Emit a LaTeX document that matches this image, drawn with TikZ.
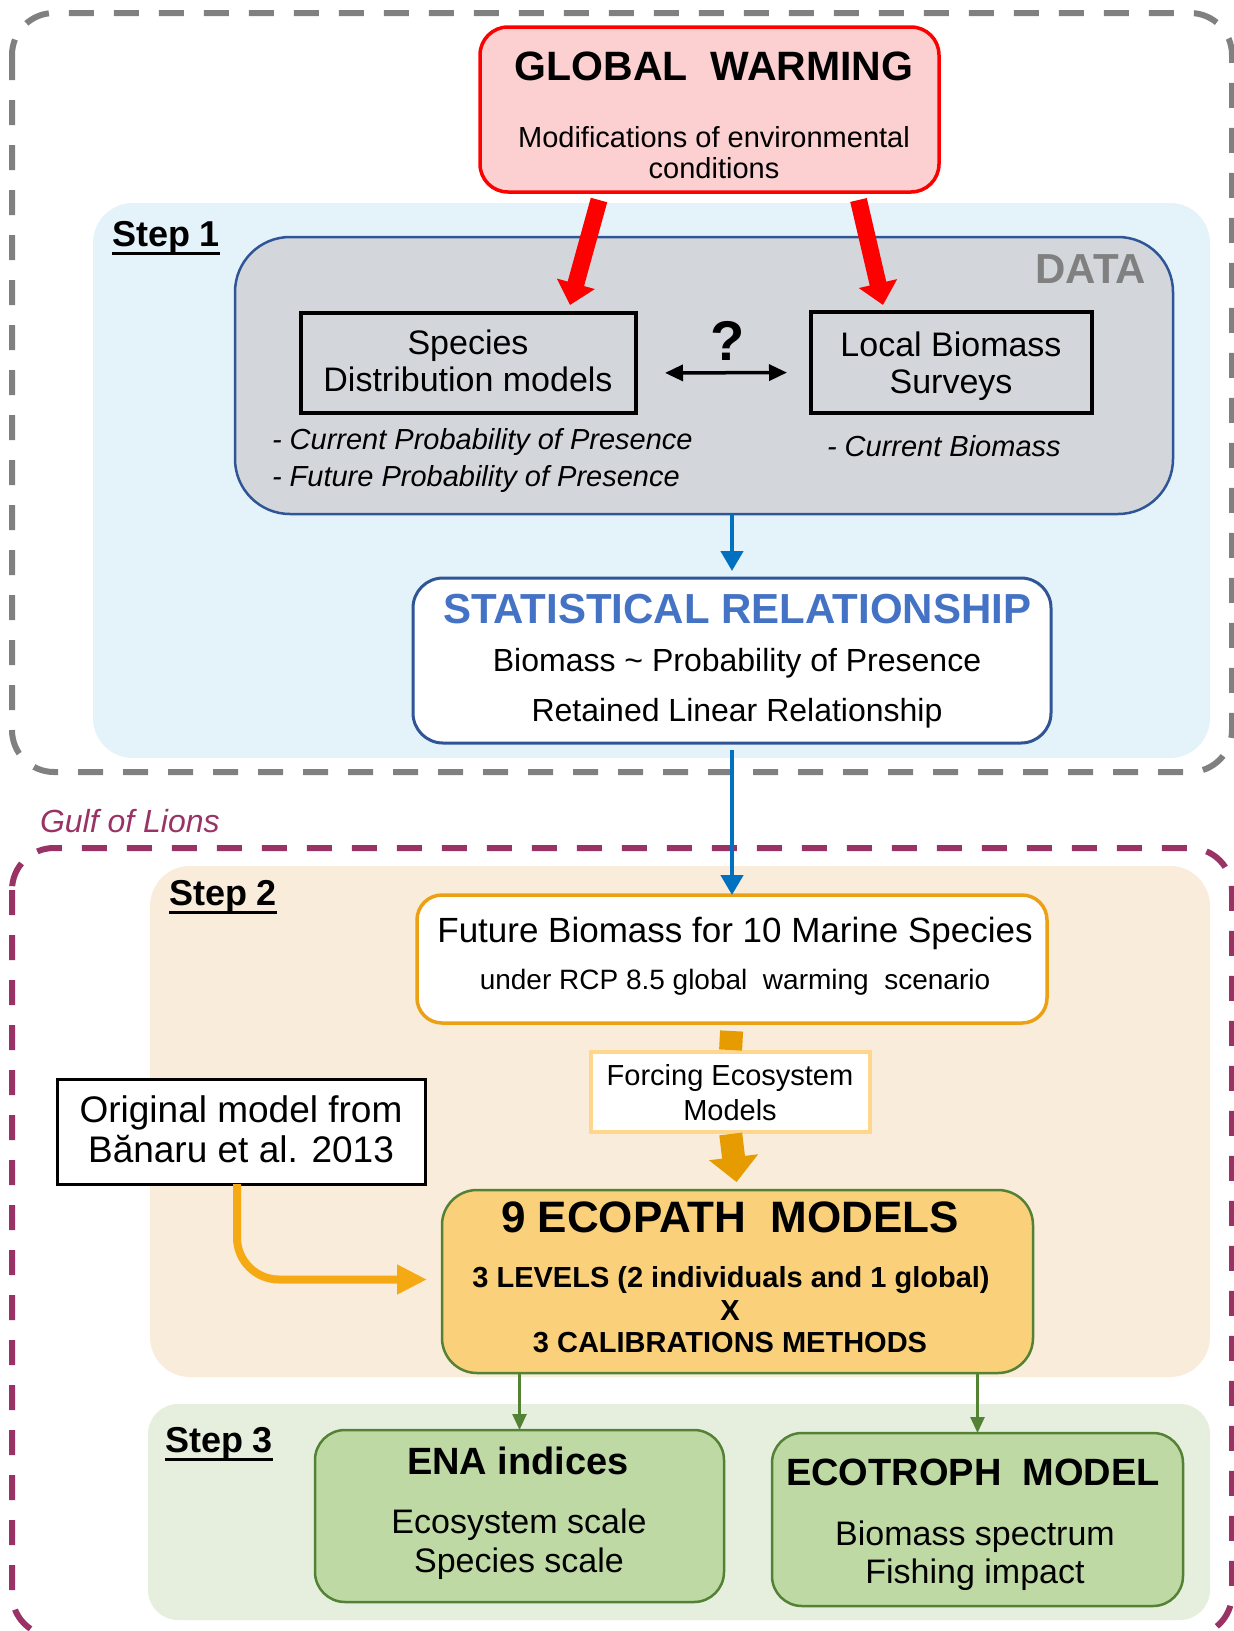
\documentclass[tikz,border=0pt]{standalone}
\usepackage{fontspec}
\setmainfont{Liberation Sans}
\usetikzlibrary{arrows.meta,positioning,calc}

\newcommand{\fsize}[1]{\fontsize{#1}{#1}\selectfont}

\definecolor{frameGray}{RGB}{128,128,128}
\definecolor{gulfPurple}{RGB}{153,51,102}
\definecolor{stepBlue}{RGB}{228,242,250}
\definecolor{stepOrange}{RGB}{249,236,218}
\definecolor{stepGreen}{RGB}{230,239,222}
\definecolor{warmFill}{RGB}{252,207,209}
\definecolor{warmRed}{RGB}{255,0,0}
\definecolor{dataFill}{RGB}{211,215,219}
\definecolor{navyLine}{RGB}{47,85,151}
\definecolor{statBlue}{RGB}{68,114,196}
\definecolor{arrowBlue}{RGB}{0,112,192}
\definecolor{futOrange}{RGB}{236,160,20}
\definecolor{forceOrange}{RGB}{255,214,140}
\definecolor{shaftOrange}{RGB}{230,155,0}
\definecolor{curveOrange}{RGB}{245,170,20}
\definecolor{ecoFill}{RGB}{250,208,122}
\definecolor{ecoGreen}{RGB}{84,130,53}
\definecolor{outFill}{RGB}{190,217,163}

\begin{document}
\begin{tikzpicture}[x=1pt, y=-1pt,
  every node/.style={inner sep=0pt, outer sep=0pt},
  txt/.style={anchor=base, font=\fsize{#1}},
  btxt/.style={anchor=base, font=\fsize{#1}\bfseries},
  itxt/.style={anchor=base west, font=\fsize{#1}\itshape},
  steplabel/.style={anchor=base west, font=\fsize{36}\bfseries},
  underbar/.style={line width=3pt},
  region/.style={fill=#1, rounded corners=40pt},
  dashframe/.style={draw=#1, line width=6pt, dash pattern=on 25pt off 20pt, rounded corners=42pt},
  plainbox/.style={draw, line width=3pt},
  warmarrow/.style={-{Triangle[width=38pt,length=22pt]}, line width=17pt, warmRed},
  bluearrow/.style={-{Triangle[width=22pt,length=20pt]}, line width=4.5pt, arrowBlue},
  bothways/.style={{Triangle[width=16pt,length=18pt]}-{Triangle[width=16pt,length=18pt]}, line width=3.5pt},
  forcearrow/.style={-{Triangle[width=48pt,length=25pt]}, line width=23pt, shaftOrange},
  bendarrow/.style={-{Triangle[width=28pt,length=30pt]}, line width=8pt, curveOrange, rounded corners=42pt},
  greenarrow/.style={-{Triangle[width=14pt,length=16pt]}, line width=2.5pt, ecoGreen},
]
\useasboundingbox (0,0) rectangle (1234,1631);
\clip (0,0) rectangle (1234,1631);

% --- outer frames and step backgrounds
\draw[dashframe=frameGray] (12,13) rectangle (1232,772);
\draw[dashframe=gulfPurple] (12,848) rectangle (1232,1636);
\fill[region=stepBlue] (93,203) rectangle (1210,758);
\fill[region=stepOrange] (150,866) rectangle (1210,1377);
\fill[region=stepGreen, rounded corners=30pt] (148,1404) rectangle (1210,1620);

% --- Step 1
\node[plainbox, draw=warmRed, fill=warmFill, line width=3.5pt, rounded corners=28pt,
  minimum width=459pt, minimum height=165pt] (gw) at (709.5,109.5) {};
\node[btxt=41] (gwtitle) at (714,80) {GLOBAL\ \ WARMING};
\node[txt=29] (gwtext1) at (714,147) {Modifications of environmental};
\node[txt=29] (gwtext2) at (714,178) {conditions};

\node[steplabel] (step1) at (112,246) {Step 1};
\draw[underbar] (step1.south west) -- (step1.south east);

\node[draw=navyLine, fill=dataFill, line width=2.5pt, rounded corners=55pt,
  minimum width=938pt, minimum height=277pt] (data) at (704,375.5) {};
\node[anchor=base east, font=\fsize{42}\bfseries, text=frameGray] (datalabel) at (1146,283) {DATA};

\node[plainbox, line width=3.5pt, minimum width=335pt, minimum height=100pt] (sdm) at (468.5,363) {};
\node[txt=34] (sdmtext1) at (468,354) {Species};
\node[txt=34] (sdmtext2) at (468,391) {Distribution models};
\node[plainbox, line width=3.5pt, minimum width=281pt, minimum height=101pt] (lbs) at (951.5,362.5) {};
\node[txt=34] (lbstext1) at (951,356) {Local Biomass};
\node[txt=34] (lbstext2) at (951,393) {Surveys};
\node[btxt=56] (query) at (728,360) {?};

\node[itxt=29] (sdmnote1) at (272,449) {- Current Probability of Presence};
\node[itxt=29] (sdmnote2) at (272,486) {- Future Probability of Presence};
\node[itxt=29] (lbsnote) at (827,456) {- Current Biomass};

\node[draw=navyLine, fill=white, line width=3pt, rounded corners=30pt,
  minimum width=638pt, minimum height=165pt] (stat) at (732,660.5) {};
\node[anchor=base, font=\fsize{42}\bfseries, text=statBlue] (stattitle) at (737,623) {STATISTICAL RELATIONSHIP};
\node[txt=32] (stattext1) at (737,671) {Biomass \textasciitilde\ Probability of Presence};
\node[txt=32] (stattext2) at (737,721) {Retained Linear Relationship};

% --- Gulf of Lions, Step 2
\node[anchor=base west, font=\fsize{32}\itshape, text=gulfPurple] (gulf) at (40,832) {Gulf of Lions};

\node[steplabel] (step2) at (169,905) {Step 2};
\draw[underbar] (step2.south west) -- (step2.south east);

\node[draw=futOrange, fill=white, line width=3.5pt, rounded corners=25pt,
  minimum width=630pt, minimum height=128pt] (future) at (732,959) {};
\node[txt=35] (futtext1) at (735,942) {Future Biomass for 10 Marine Species};
\node[txt=28] (futtext2) at (735,989) {under RCP 8.5 global\ \ warming\ \ scenario};

\node[draw=forceOrange, fill=white, line width=3.5pt,
  minimum width=279pt, minimum height=80pt] (forcing) at (730.5,1092) {};
\node[txt=29] (forcetext1) at (730,1085) {Forcing Ecosystem};
\node[txt=29] (forcetext2) at (730,1120) {Models};

\node[plainbox, fill=white, minimum width=368pt, minimum height=105pt] (orig) at (241,1131.5) {};
\node[txt=37] (origtext1) at (241,1122) {Original model from};
\node[txt=37] (origtext2) at (241,1162) {Bănaru et al. 2013};

\node[draw=ecoGreen, fill=ecoFill, line width=2.5pt, rounded corners=35pt,
  minimum width=591pt, minimum height=183pt] (ecopath) at (737.5,1281.5) {};
\node[btxt=44] (ecotitle) at (730,1232) {9 ECOPATH\ \ MODELS};
\node[btxt=29] (ecotext1) at (731,1287) {3 LEVELS (2 individuals and 1 global)};
\node[btxt=29] (ecotext2) at (730,1320) {X};
\node[btxt=29] (ecotext3) at (730,1352) {3 CALIBRATIONS METHODS};

% --- Step 3
\node[steplabel] (step3) at (165,1452) {Step 3};
\draw[underbar] (step3.south west) -- (step3.south east);

\node[draw=ecoGreen, fill=outFill, line width=2.5pt, rounded corners=30pt,
  minimum width=409pt, minimum height=172pt] (ena) at (519.5,1516) {};
\node[btxt=38] (enatitle) at (518,1474) {ENA indices};
\node[txt=34] (enatext1) at (519,1533) {Ecosystem scale};
\node[txt=34] (enatext2) at (519,1572) {Species scale};

\node[draw=ecoGreen, fill=outFill, line width=2.5pt, rounded corners=30pt,
  minimum width=411pt, minimum height=173pt] (troph) at (977.5,1519.5) {};
\node[btxt=38] (trophtitle) at (973,1485) {ECOTROPH\ \ MODEL};
\node[txt=34] (trophtext1) at (975,1545) {Biomass spectrum};
\node[txt=34] (trophtext2) at (975,1583) {Fishing impact};

% --- connectors
\draw[warmarrow] ([xshift=-110.5pt,yshift=-8pt]gw.south) -- ([xshift=101.5pt,yshift=8pt]sdm.north);
\draw[warmarrow] ([xshift=149pt,yshift=-8pt]gw.south) -- ([xshift=-68.5pt,yshift=7pt]lbs.north);
\draw[bothways, shorten <=29pt, shorten >=24pt] ([yshift=-10pt]sdm.east) -- ([yshift=-10pt]lbs.west);
\draw[bluearrow, shorten >=7pt] (stat.north |- data.south) -- (stat.north);
\draw[bluearrow, shorten <=7pt] (stat.south) -- (future.north);
\draw[line width=23pt, shaftOrange, shorten <=8pt, shorten >=2pt] (future.south) -- (forcing.north);
\draw[forcearrow, shorten <=2pt, shorten >=8pt] (forcing.south) -- (ecopath.north);
\draw[bendarrow, shorten >=15pt] ([xshift=-4pt]orig.south) |- ([yshift=2pt]ecopath.west);
\draw[greenarrow] (ena.north |- ecopath.south) -- (ena.north);
\draw[greenarrow] (troph.north |- ecopath.south) -- (troph.north);
\end{tikzpicture}
\end{document}
